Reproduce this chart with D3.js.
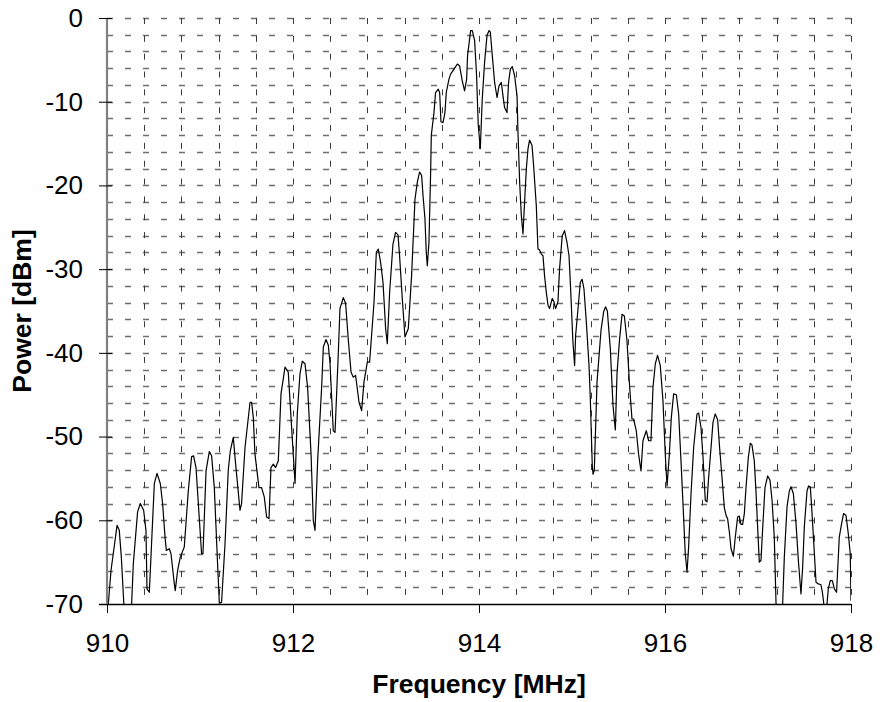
<!DOCTYPE html>
<html>
<head>
<meta charset="utf-8">
<script src="https://cdn.jsdelivr.net/npm/d3@7"></script>
<style>
  body { margin: 0; background: #fff; }
  svg { display: block; font-family: "Liberation Sans", Arial, sans-serif; }
</style>
</head>
<body>
<div id="chart"></div>
<script>
// spectrum trace
var freqMHz = [
  910.000, 910.043, 910.108, 910.132, 910.154, 910.186, 910.261, 910.283, 910.329, 910.358,
  910.394, 910.419, 910.430, 910.455, 910.509, 910.538, 910.573, 910.598, 910.624, 910.638,
  910.670, 910.688, 910.724, 910.734, 910.759, 910.788, 910.831, 910.874, 910.910, 910.931,
  910.957, 910.982, 911.017, 911.032, 911.065, 911.100, 911.125, 911.154, 911.189, 911.208,
  911.232, 911.269, 911.304, 911.326, 911.358, 911.380, 911.430, 911.447, 911.484, 911.538,
  911.555, 911.573, 911.591, 911.634, 911.662, 911.691, 911.716, 911.742, 911.763, 911.788,
  911.813, 911.842, 911.871, 911.914, 911.949, 911.985, 912.022, 912.046, 912.075, 912.100,
  912.129, 912.157, 912.194, 912.218, 912.237, 912.265, 912.308, 912.326, 912.355, 912.380,
  912.398, 912.433, 912.452, 912.487, 912.505, 912.541, 912.566, 912.595, 912.624, 912.648,
  912.673, 912.710, 912.738, 912.763, 912.799, 912.824, 912.853, 912.871, 912.896, 912.917,
  912.942, 912.968, 912.996, 913.014, 913.039, 913.075, 913.103, 913.129, 913.146, 913.175,
  913.204, 913.240, 913.275, 913.312, 913.337, 913.361, 913.383, 913.398, 913.419, 913.433,
  913.444, 913.462, 913.480, 913.487, 913.516, 913.533, 913.562, 913.577, 913.591, 913.613,
  913.634, 913.648, 913.677, 913.695, 913.731, 913.767, 913.791, 913.820, 913.845, 913.867,
  913.877, 913.910, 913.928, 913.953, 913.974, 913.992, 914.014, 914.035, 914.060, 914.086,
  914.108, 914.122, 914.143, 914.168, 914.194, 914.215, 914.240, 914.258, 914.275, 914.301,
  914.318, 914.337, 914.358, 914.383, 914.409, 914.419, 914.437, 914.455, 914.473, 914.490,
  914.509, 914.527, 914.544, 914.570, 914.587, 914.616, 914.634, 914.651, 914.670, 914.688,
  914.705, 914.724, 914.742, 914.759, 914.788, 914.806, 914.823, 914.849, 914.866, 914.895,
  914.920, 914.946, 914.968, 914.985, 915.010, 915.028, 915.039, 915.065, 915.089, 915.108,
  915.129, 915.154, 915.183, 915.197, 915.218, 915.226, 915.240, 915.269, 915.312, 915.340,
  915.361, 915.380, 915.412, 915.441, 915.466, 915.484, 915.512, 915.538, 915.563, 915.591,
  915.620, 915.645, 915.662, 915.691, 915.716, 915.742, 915.763, 915.799, 915.824, 915.849,
  915.871, 915.896, 915.920, 915.949, 915.978, 916.003, 916.022, 916.047, 916.068, 916.093,
  916.122, 916.147, 916.172, 916.200, 916.218, 916.237, 916.254, 916.280, 916.308, 916.344,
  916.362, 916.387, 916.409, 916.433, 916.452, 916.469, 916.495, 916.516, 916.540, 916.566,
  916.587, 916.613, 916.638, 916.659, 916.673, 916.692, 916.710, 916.735, 916.756, 916.781,
  916.799, 916.817, 916.835, 916.853, 916.871, 916.896, 916.917, 916.935, 916.960, 916.978,
  916.996, 917.014, 917.032, 917.051, 917.075, 917.104, 917.129, 917.151, 917.175, 917.194,
  917.208, 917.251, 917.265, 917.283, 917.312, 917.337, 917.355, 917.380, 917.409, 917.434,
  917.462, 917.480, 917.498, 917.527, 917.544, 917.562, 917.577, 917.598, 917.624, 917.649,
  917.677, 917.695, 917.718, 917.734, 917.756, 917.777, 917.799, 917.821, 917.845, 917.874,
  917.899, 917.920, 917.946, 917.971, 917.992, 918.000
];
var powerDbm = [
  -72.0, -66.0, -60.6, -61.2, -64.4, -71.0, -71.0, -65.2, -59.0, -58.0,
  -58.8, -61.2, -68.2, -68.6, -55.6, -54.4, -55.6, -58.0, -62.0, -63.6,
  -63.4, -64.0, -67.6, -68.4, -66.0, -64.4, -63.2, -56.5, -52.4, -52.3,
  -53.7, -58.0, -64.0, -64.0, -54.1, -51.8, -52.3, -56.1, -65.2, -69.9,
  -69.8, -62.8, -54.0, -51.7, -50.1, -52.9, -58.8, -58.0, -51.3, -45.9,
  -45.9, -47.7, -52.1, -56.1, -56.1, -57.2, -59.6, -59.8, -53.7, -53.3,
  -53.7, -52.9, -44.9, -41.7, -42.3, -48.9, -55.6, -47.3, -42.5, -41.0,
  -41.3, -44.1, -52.1, -60.0, -61.2, -52.9, -44.1, -39.3, -38.4, -39.1,
  -41.3, -49.3, -49.5, -40.1, -34.7, -33.4, -34.1, -38.5, -42.3, -42.9,
  -42.7, -45.9, -46.9, -43.5, -41.1, -41.1, -36.7, -34.0, -28.0, -27.6,
  -29.2, -31.6, -37.1, -38.9, -32.8, -27.0, -25.6, -25.9, -28.4, -33.5,
  -38.1, -37.1, -30.8, -21.6, -19.6, -18.4, -18.8, -21.2, -24.0, -28.0,
  -29.6, -26.8, -18.4, -14.0, -11.3, -8.9, -8.5, -8.9, -12.4, -12.5,
  -11.3, -8.9, -7.3, -6.7, -6.1, -5.5, -5.7, -7.5, -8.7, -7.3,
  -4.5, -1.5, -1.5, -2.7, -6.9, -12.8, -15.6, -9.7, -5.3, -2.1,
  -1.5, -1.7, -4.5, -7.7, -9.5, -8.1, -7.7, -9.3, -10.7, -11.3,
  -7.7, -6.1, -5.8, -6.9, -9.3, -13.6, -19.6, -23.6, -25.8, -22.0,
  -18.0, -15.6, -14.6, -15.2, -17.6, -22.4, -27.6, -27.7, -28.2, -28.4,
  -30.8, -32.8, -34.3, -34.7, -33.5, -33.9, -34.7, -33.9, -30.0, -26.0,
  -25.4, -26.8, -28.4, -32.3, -38.7, -41.5, -37.9, -34.7, -31.6, -31.2,
  -32.4, -36.3, -41.5, -45.5, -53.5, -54.5, -54.0, -43.5, -37.3, -35.1,
  -34.5, -35.0, -39.5, -46.3, -49.2, -42.5, -38.3, -35.4, -35.6, -38.5,
  -44.1, -47.9, -47.9, -49.3, -52.1, -54.1, -50.5, -49.3, -50.5, -50.5,
  -44.1, -41.3, -40.3, -41.5, -45.7, -52.1, -55.9, -52.1, -47.7, -44.9,
  -45.0, -47.3, -52.9, -59.6, -64.0, -66.2, -63.2, -56.8, -51.3, -47.3,
  -47.2, -48.9, -52.5, -57.6, -57.8, -54.9, -51.3, -48.3, -47.3, -48.0,
  -51.3, -54.9, -58.5, -59.5, -59.8, -61.4, -63.4, -64.3, -62.0, -59.6,
  -59.5, -60.5, -60.5, -59.2, -56.1, -52.5, -50.8, -51.0, -52.9, -56.5,
  -60.8, -65.0, -64.8, -60.8, -56.1, -54.7, -55.2, -57.6, -62.0, -70.0,
  -72.0, -72.0, -70.0, -64.4, -58.4, -56.5, -56.0, -56.8, -60.4, -64.8,
  -68.8, -65.6, -60.8, -56.5, -55.9, -56.0, -58.4, -62.4, -67.4, -67.6,
  -67.7, -68.8, -71.0, -71.0, -68.2, -67.2, -67.2, -68.2, -68.6, -62.0,
  -60.4, -59.2, -59.4, -61.6, -64.0, -69.6
];
var xTicks = [910, 912, 914, 916, 918];
var yTicks = [0, -10, -20, -30, -40, -50, -60, -70];
var xGrid = d3.range(1, 21).map(function (i) { return 910 + i * 0.4; });
var yGrid = d3.range(0, 35).map(function (i) { return -i * 2; });

var W = 882, H = 702;
var margin = { top: 18, right: 31, bottom: 98, left: 107 };
var width = W - margin.left - margin.right,
  height = H - margin.top - margin.bottom;

var svg = d3.select("#chart").append("svg")
  .attr("width", W)
  .attr("height", H);

var g = svg.append("g")
  .attr("transform", "translate(" + margin.left + "," + margin.top + ")");

var x = d3.scaleLinear().domain([910, 918]).range([0, width]);
var y = d3.scaleLinear().domain([-70, 0]).range([height, 0]);

svg.append("defs").append("clipPath").attr("id", "plotClip")
  .append("rect").attr("width", width).attr("height", height);

// dashed grid, every 2 dBm and every 0.4 MHz
g.append("g").attr("class", "hgrid")
  .selectAll("line").data(yGrid).enter().append("line")
  .attr("x1", 0).attr("x2", width)
  .attr("y1", function (d) { return Math.round(y(d)) + 0.5; })
  .attr("y2", function (d) { return Math.round(y(d)) + 0.5; })
  .attr("stroke", "#6e6e6e")
  .attr("stroke-width", 1.3)
  .attr("stroke-dasharray", "6,12");

g.append("g").attr("class", "vgrid")
  .selectAll("line").data(xGrid).enter().append("line")
  .attr("x1", function (d) { return Math.round(x(d)) + 0.5; })
  .attr("x2", function (d) { return Math.round(x(d)) + 0.5; })
  .attr("y1", 0).attr("y2", height)
  .attr("stroke", "#3a3a3a")
  .attr("stroke-width", 1)
  .attr("stroke-dasharray", "6,11.84");

// trace
var line = d3.line()
  .x(function (d) { return x(d[0]); })
  .y(function (d) { return y(d[1]); });

g.append("path")
  .datum(d3.zip(freqMHz, powerDbm))
  .attr("clip-path", "url(#plotClip)")
  .attr("fill", "none")
  .attr("stroke", "#000")
  .attr("stroke-width", 1.2)
  .attr("stroke-linejoin", "round")
  .attr("d", line);

// axes
var xAxis = g.append("g")
  .attr("transform", "translate(0," + height + ")")
  .call(d3.axisBottom(x).tickValues(xTicks).tickSize(9).tickPadding(21)
    .tickFormat(d3.format("d")));
xAxis.select(".domain").attr("stroke", "#000").attr("stroke-width", 1.3)
  .attr("d", "M-8,0.5H" + width);
xAxis.selectAll("text").attr("font-size", 26).attr("fill", "#000");

var yAxis = g.append("g")
  .call(d3.axisLeft(y).tickValues(yTicks).tickSize(8).tickPadding(16)
    .tickFormat(d3.format("d")));
yAxis.select(".domain").attr("stroke", "#808080").attr("stroke-width", 2.2)
  .attr("d", "M0,0V" + height);
yAxis.selectAll(".tick line").attr("x2", 5).attr("x1", -8).attr("stroke", "#000");
yAxis.selectAll("text").attr("font-size", 26).attr("fill", "#000")
  .text(function (d) { return d === 0 ? "0" : "-" + Math.abs(d); });

svg.append("text")
  .attr("x", margin.left + width / 2)
  .attr("y", 693)
  .attr("text-anchor", "middle")
  .attr("font-size", 26.5)
  .attr("font-weight", "bold")
  .text("Frequency [MHz]");

svg.append("text")
  .attr("transform", "translate(31," + (margin.top + height / 2) + ") rotate(-90)")
  .attr("text-anchor", "middle")
  .attr("font-size", 26.5)
  .attr("font-weight", "bold")
  .text("Power [dBm]");
</script>
</body>
</html>
